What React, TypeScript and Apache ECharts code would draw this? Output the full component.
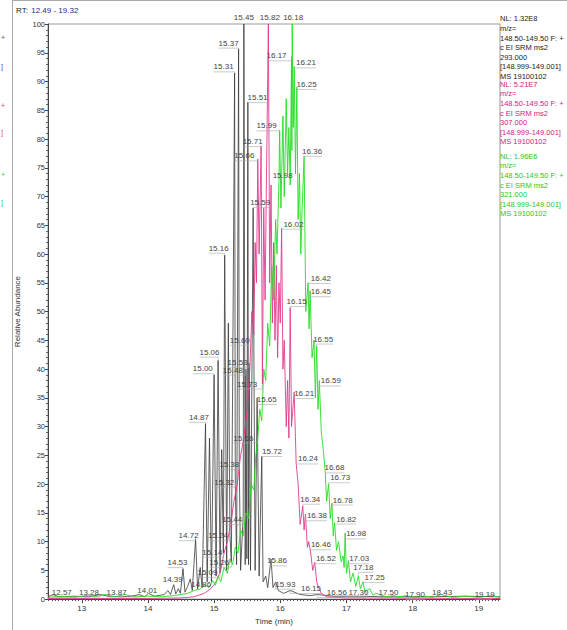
import React, { useEffect, useRef } from "react";
import * as echarts from "echarts";

type P = [number, number];

// ---- axis ticks ----
const xTickValues = [13, 14, 15, 16, 17, 18, 19];
const xMin = 12.49;
const xMax = 19.32;

// ---- black trace (NL 1.32E8, 293.000) ----
const blackBase: P[] = [
  [12.49, 0.4], [12.65, 0.4], [12.9, 0.5], [13.1, 0.4], [13.4, 0.5], [13.6, 0.4], [13.75, 0.5],
  [13.95, 0.4], [14.1, 0.5], [14.25, 0.8], [14.3, 1.5], [14.34, 0.8], [14.42, 0.9], [14.46, 1.8],
  [14.49, 1.0], [14.56, 1.2], [14.6, 2.2], [14.64, 3.5], [14.67, 1.5], [14.75, 1.8], [14.79, 5.5],
  [14.82, 2], [14.895, 3], [14.93, 28], [14.96, 3], [15.03, 4], [15.115, 26], [15.19, 5],
  [15.215, 48], [15.28, 37], [15.34, 6], [15.4, 5], [15.47, 6], [15.495, 7], [15.52, 6],
  [15.55, 5], [15.62, 5], [15.68, 4], [15.74, 3], [15.78, 4], [15.81, 2], [15.89, 2],
  [15.97, 1.5], [16.05, 1.0], [16.3, 0.8], [16.45, 0.6], [16.8, 0.5], [17.2, 0.5], [17.6, 0.4],
  [18.2, 0.4], [18.8, 0.5], [19.32, 0.4],
];
const blackPeaks: P[] = [
  [12.57, 0.8], [13.28, 0.8], [13.87, 0.8], [14.01, 1.0], [14.39, 2.5], [14.53, 5.3], [14.72, 10.5],
  [14.87, 30.5], [15.0, 39], [15.06, 41.5], [15.09, 4.6], [15.14, 8], [15.16, 59.8], [15.24, 11],
  [15.26, 6.4], [15.31, 91.5], [15.32, 20], [15.37, 95.7], [15.38, 23.6], [15.44, 14.5], [15.45, 100],
  [15.48, 40], [15.51, 86.4], [15.53, 41], [15.59, 68], [15.6, 45], [15.65, 35], [15.72, 24.8],
  [15.86, 7], [15.93, 3], [16.15, 1.5], [16.56, 0.8],
];
const blackOffsets: P[] = [
  [8.5, -2], [-11.3, -2.4], [-22.7, -2.4], [-1.3, -3], [-1, -5], [-5.5, -6], [-7, -3],
  [-6.6, -6.4], [-11.3, -6], [-8.6, -8.3], [-12.6, 0], [-11, -1], [-6, -7], [-12, 0],
  [-12, 0], [-11, -6], [-11, -2], [-10, -5.6], [-10, 1], [-11, 4], [0, -7],
  [-13, 1], [9.7, -4.6], [-11.6, -1], [7, -5.6], [-14, 0], [9.6, 1.7], [10.3, -5],
  [6, 2], [9.7, 2.4], [20.8, -2], [19.5, -2],
];

// ---- magenta trace (NL 5.21E7, 307.000) ----
const magentaBase: P[] = [
  [12.49, 0.1], [14.0, 0.1], [14.5, 0.2], [14.7, 0.4], [14.85, 1], [14.95, 1.8], [15.0, 2.5],
  [15.05, 3.5], [15.1, 5], [15.15, 8], [15.2, 10], [15.25, 13], [15.3, 17], [15.35, 20],
  [15.4, 25], [15.45, 28], [15.5, 33], [15.54, 40], [15.57, 50], [15.6, 46], [15.62, 62],
  [15.64, 55], [15.68, 60], [15.75, 68], [15.77, 52], [15.79, 72], [15.84, 55], [15.86, 72],
  [15.88, 48], [15.9, 62], [15.92, 45], [15.94, 58], [15.96, 42], [15.98, 55], [16.0, 48],
  [16.04, 40], [16.06, 45], [16.09, 30], [16.11, 38], [16.13, 28], [16.17, 30], [16.27, 20],
  [16.3, 13], [16.36, 12], [16.41, 9], [16.43, 10], [16.49, 5], [16.55, 3], [16.58, 2],
  [16.62, 1], [16.7, 0.4], [17.0, 0.2], [19.32, 0.1],
];
const magentaPeaks: P[] = [
  [15.66, 76.5], [15.71, 78.8], [15.73, 37.4], [15.82, 100], [16.02, 64.5], [16.15, 50.7],
  [16.21, 36], [16.24, 23.6], [16.34, 16.2], [16.38, 14.8], [16.46, 8], [16.52, 6.4],
];
const magentaOffsets: P[] = [
  [-13.4, -3.3], [-8.4, -4.3], [-15.3, 0], [1.5, -7], [11.8, -4], [6.4, -6],
  [10, 1.5], [11.8, -4.4], [7.5, -6.7], [11.5, 1.8], [10.2, -8.3], [11.2, -3.6],
];

// ---- green trace (NL 1.96E6, 321.000) ----
const greenBase: P[] = [
  [12.49, 0.3], [12.7, 0.5], [12.9, 0.3], [13.1, 0.7], [13.2, 0.4], [13.35, 0.8], [13.5, 0.4],
  [13.65, 0.8], [13.8, 0.4], [14.0, 0.5], [14.2, 0.4], [14.4, 0.6], [14.6, 1.0], [14.7, 1.5],
  [14.8, 1.8], [14.92, 2.0], [14.98, 3.2], [15.02, 2.4], [15.06, 4], [15.1, 3], [15.15, 5.5],
  [15.2, 4.5], [15.24, 7], [15.28, 6], [15.32, 9], [15.36, 8], [15.4, 12], [15.44, 11],
  [15.48, 15], [15.52, 14], [15.56, 20], [15.6, 19], [15.63, 25], [15.69, 33], [15.72, 31],
  [15.75, 40], [15.78, 38], [15.81, 48], [15.84, 44], [15.87, 58], [15.9, 52], [15.93, 66],
  [15.95, 60], [16.01, 68], [16.04, 84], [16.06, 70], [16.09, 87], [16.11, 74], [16.13, 82],
  [16.15, 72], [16.175, 78], [16.195, 82], [16.23, 74], [16.27, 66], [16.29, 74], [16.31, 60],
  [16.33, 68], [16.385, 50], [16.435, 47], [16.48, 42], [16.51, 45], [16.53, 35], [16.57, 33],
  [16.62, 29], [16.65, 26], [16.7, 17], [16.755, 14], [16.8, 11], [16.85, 8.5], [16.88, 10],
  [16.92, 6.5], [16.95, 7.5], [16.965, 5.5], [17.0, 4.5], [17.06, 3], [17.1, 4.5], [17.14, 2.2],
  [17.21, 1.8], [17.28, 1.2], [17.35, 1.8], [17.4, 0.7], [17.45, 1.0], [17.6, 0.4], [17.7, 0.6],
  [17.8, 0.4], [18.0, 0.3], [18.2, 0.5], [18.3, 0.3], [18.6, 0.3], [18.8, 0.5], [19.0, 0.3],
  [19.32, 0.3],
];
const greenPeaks: P[] = [
  [14.86, 2.5], [15.66, 28], [15.98, 72.8], [15.99, 81.5], [16.17, 94.3], [16.18, 100],
  [16.21, 92.6], [16.25, 89], [16.36, 77], [16.42, 55], [16.45, 53.6], [16.55, 44], [16.59, 38],
  [16.68, 22], [16.73, 20], [16.78, 16.7], [16.82, 13.3], [16.98, 11.5], [17.03, 6.7], [17.18, 4],
  [17.25, 3], [17.3, 1.5], [17.5, 0.8], [17.9, 0.6], [18.43, 0.8], [19.19, 0.6],
];
const greenOffsets: P[] = [
  [-3.6, -0.5], [-14.4, 0], [3.7, -4.5], [-13, -4.6], [-15, -1], [1, -7],
  [11.8, -3.6], [9.8, -2.8], [8, -5], [12.8, -4.3], [10.8, 0.9], [6.5, -7], [11.5, 0.4],
  [9.2, -4.7], [11.6, -6.3], [10.9, -3], [11.6, -3.6], [11, 1], [10.7, -1.8], [5, -8.8],
  [11.6, -4.3], [-7.9, 2], [8.9, -2], [9, -1.3], [1, -2], [-6.7, -1.3],
];

// ---- legend texts ----
const legendBlack = ["NL: 1.32E8", "m/z=", "148.50-149.50 F: +", "c EI SRM ms2", "293.000", "[148.999-149.001]", "MS 19100102"];
const legendMagenta = ["NL: 5.21E7", "m/z=", "148.50-149.50 F: +", "c EI SRM ms2", "307.000", "[148.999-149.001]", "MS 19100102"];
const legendGreen = ["NL: 1.96E6", "m/z=", "148.50-149.50 F: +", "c EI SRM ms2", "321.000", "[148.999-149.001]", "MS 19100102"];

const C_BLACK = "#3a3a3a";
const C_MAGENTA = "#e23a8e";
const C_GREEN = "#22dd22";
const FONT = "'Liberation Sans', Arial, sans-serif";

function merge(a: P[], b: P[]): P[] {
  return [...a, ...b].sort((p, q) => p[0] - q[0]);
}

function labelSeries(peaks: P[], offsets: P[]) {
  return {
    type: "custom",
    data: peaks,
    clip: false,
    silent: true,
    z: 10,
    renderItem: (params: any, api: any) => {
      const t = api.value(0) as number;
      const v = api.value(1) as number;
      const pt = api.coord([t, v]);
      const px = pt[0];
      const py = pt[1];
      const o = offsets[params.dataIndex] || [0, 0];
      const lx = px + o[0];
      const ly = py + o[1];
      const half = 10;
      const uy = ly + 5;
      const children: any[] = [];
      if (Math.abs(o[0]) > 4) {
        const far = o[0] > 0 ? lx + half : lx - half;
        children.push({
          type: "polyline",
          shape: { points: [[px, py], [px, uy], [far, uy]] },
          style: { stroke: "#a8a8a8", lineWidth: 0.6, fill: null },
        });
      }
      children.push({
        type: "text",
        style: {
          text: t.toFixed(2),
          x: lx,
          y: ly,
          align: "center",
          verticalAlign: "middle",
          font: `8px ${FONT}`,
          fill: "#444",
        },
      });
      return { type: "group", children };
    },
  };
}

export default function App() {
  const ref = useRef<HTMLDivElement>(null);
  useEffect(() => {
    if (!ref.current) return;
    const chart = echarts.init(ref.current, undefined, { renderer: "svg" });
    const minorX: number[] = [];
    for (let i = 250; i <= 1932; i += 5) minorX.push(i / 100);
    const lineTxt = (lines: string[], top: number, color: string) => ({
      type: "text",
      left: 500,
      top,
      style: { text: lines.join("\n"), fill: color, font: `7.5px ${FONT}`, lineHeight: 9.6 },
    });
    chart.setOption({
      animation: false,
      backgroundColor: "#fff",
      grid: { left: 48, right: 67, top: 24, bottom: 26, show: true, borderColor: "#999", borderWidth: 1 },
      xAxis: [
        {
          type: "value",
          min: xMin,
          max: xMax,
          name: "Time (min)",
          nameLocation: "middle",
          nameGap: 15,
          nameTextStyle: { fontSize: 8, fontFamily: FONT, color: "#333" },
          axisLine: { lineStyle: { color: "#444", width: 1 } },
          axisTick: { customValues: xTickValues, length: 4, lineStyle: { color: "#444" } },
          axisLabel: { customValues: xTickValues, fontSize: 8, fontFamily: FONT, color: "#333", margin: 5 },
          splitLine: { show: false },
        },
        {
          type: "value",
          min: xMin,
          max: xMax,
          position: "bottom",
          axisLine: { show: false },
          axisTick: { customValues: minorX, length: 2, lineStyle: { color: "#555" } },
          axisLabel: { show: false },
          splitLine: { show: false },
        },
      ],
      yAxis: {
        type: "value",
        min: 0,
        max: 100,
        interval: 5,
        name: "Relative Abundance",
        nameLocation: "middle",
        nameGap: 18,
        nameRotate: 90,
        nameTextStyle: { fontSize: 8, fontFamily: FONT, color: "#333" },
        axisLine: { show: true, lineStyle: { color: "#444", width: 1 } },
        axisTick: { show: true, length: 3, lineStyle: { color: "#444" } },
        minorTick: { show: true, splitNumber: 5, length: 2, lineStyle: { color: "#666" } },
        axisLabel: { fontSize: 7.5, fontFamily: FONT, color: "#333", margin: 3 },
        splitLine: { show: false },
      },
      series: [
        {
          type: "line",
          data: merge(blackBase, blackPeaks),
          showSymbol: false,
          lineStyle: { color: C_BLACK, width: 0.8 },
          silent: true,
          z: 2,
        },
        {
          type: "line",
          data: merge(magentaBase, magentaPeaks),
          showSymbol: false,
          lineStyle: { color: C_MAGENTA, width: 0.9 },
          silent: true,
          z: 3,
        },
        {
          type: "line",
          data: merge(greenBase, greenPeaks),
          showSymbol: false,
          lineStyle: { color: C_GREEN, width: 0.9 },
          silent: true,
          z: 4,
        },
        labelSeries(blackPeaks, blackOffsets),
        labelSeries(magentaPeaks, magentaOffsets),
        labelSeries(greenPeaks, greenOffsets),
      ],
      graphic: [
        { type: "line", shape: { x1: 12.5, y1: 0, x2: 12.5, y2: 630 }, style: { stroke: "#aaa", lineWidth: 1 } },
        { type: "line", shape: { x1: 12, y1: 0.5, x2: 567, y2: 0.5 }, style: { stroke: "#aaa", lineWidth: 1 } },
        {
          type: "text",
          left: 16,
          top: 4,
          style: {
            text: "{a|RT:} {b|12.49 - 19.32}",
            rich: {
              a: { fill: "#222", font: `8px ${FONT}` },
              b: { fill: "#2a2a8a", font: `8px ${FONT}` },
            },
          },
        },
        lineTxt(legendBlack, 14, "#222"),
        lineTxt(legendMagenta, 79.5, "#d4207e"),
        lineTxt(legendGreen, 151.5, "#1ec81e"),
        { type: "text", left: 1, top: 34, style: { text: "+", fill: "#555", font: `7px ${FONT}` } },
        { type: "text", left: 1, top: 63, style: { text: "]", fill: "#555", font: `7px ${FONT}` } },
        { type: "text", left: 1, top: 102, style: { text: "+", fill: C_MAGENTA, font: `7px ${FONT}` } },
        { type: "text", left: 1, top: 129, style: { text: "]", fill: C_MAGENTA, font: `7px ${FONT}` } },
        { type: "text", left: 1, top: 171, style: { text: "+", fill: C_GREEN, font: `7px ${FONT}` } },
        { type: "text", left: 1, top: 199, style: { text: "]", fill: C_GREEN, font: `7px ${FONT}` } },
      ],
    });
    return () => chart.dispose();
  }, []);
  return <div ref={ref} style={{ width: 567, height: 630, position: "absolute", left: 0, top: 0 }} />;
}
